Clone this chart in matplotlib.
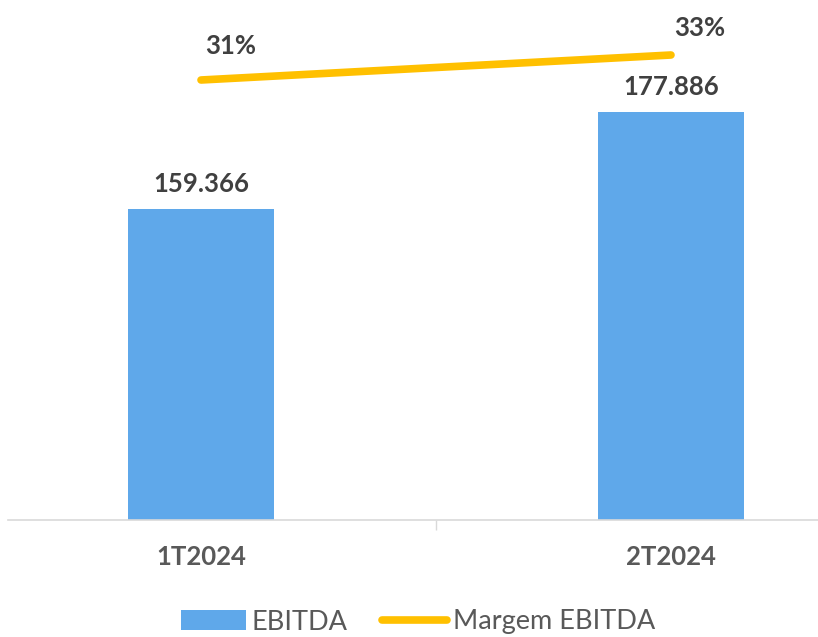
import matplotlib
matplotlib.use("Agg")
import matplotlib.pyplot as plt
from matplotlib.patches import Patch
from matplotlib.lines import Line2D

categories = ["1T2024", "2T2024"]
ebitda = [159.366, 177.886]
ebitda_labels = ["159.366", "177.886"]
margem = [31, 33]
margem_labels = ["31%", "33%"]

W, H = 818, 637
fig = plt.figure(figsize=(W / 100, H / 100), dpi=100)
plt.rcParams['font.family'] = ['Lato', 'DejaVu Sans']

# axes: left px 8 -> right px 818, top px 0 -> bottom px 520
ax = fig.add_axes([8 / W, 1 - 520 / H, (818 - 8) / W, 520 / H])
x = [0, 1]
bar_c = "#5FA8EA"
line_c = "#FFC000"
txt_c = "#404040"
fs = 18.5

ax.bar(x, ebitda, width=0.31, color=bar_c, zorder=2)
ax.set_xlim((8 - 201) / 470, (818 - 201) / 470)
ax.set_ylim(100, 199.25)

for xi, v, lab in zip(x, ebitda, ebitda_labels):
    ax.annotate(lab, (xi, v), xytext=(0, 9), textcoords="offset points",
                ha="center", va="bottom", fontsize=fs, fontweight="bold", color=txt_c)

ax2 = ax.twinx()
ax2.set_ylim(-4.2, -4.2 + 520 / 12.5)
ax2.plot(x, margem, color=line_c, lw=5.5, solid_capstyle="round", zorder=3)
label_offsets = [(21, 16), (21, 11)]
for xi, v, lab, off in zip(x, margem, margem_labels, label_offsets):
    ax2.annotate(lab, (xi, v), xytext=off, textcoords="offset points",
                 ha="center", va="bottom", fontsize=fs, fontweight="bold", color=txt_c)

for a in (ax, ax2):
    for s in ["top", "right", "left"]:
        a.spines[s].set_visible(False)
    a.set_yticks([])
ax2.spines["bottom"].set_visible(False)
ax.spines["bottom"].set_color("#D9D9D9")
ax.spines["bottom"].set_linewidth(1.2)

ax.set_xticks([0.5], minor=False)
ax.set_xticklabels([""])
ax.tick_params(axis="x", length=7, color="#D9D9D9", width=1)
for xi, c in zip(x, categories):
    ax.text(xi, -0.048, c, transform=ax.get_xaxis_transform(), ha="center", va="top",
            fontsize=fs, fontweight="bold", color="#595959")

handles = [Patch(facecolor=bar_c, edgecolor="none"),
           Line2D([0], [0], color=line_c, lw=5.5, solid_capstyle="round")]
fig.legend(handles, ["EBITDA", "Margem EBITDA"], loc="center", ncol=2,
           bbox_to_anchor=(418 / W, 1 - 622 / H), frameon=False, fontsize=19.5,
           labelcolor="#595959", handlelength=2.4, handleheight=0.8,
           handletextpad=0.2, columnspacing=1.3, borderpad=0)

fig.savefig("out.png", dpi=100)
